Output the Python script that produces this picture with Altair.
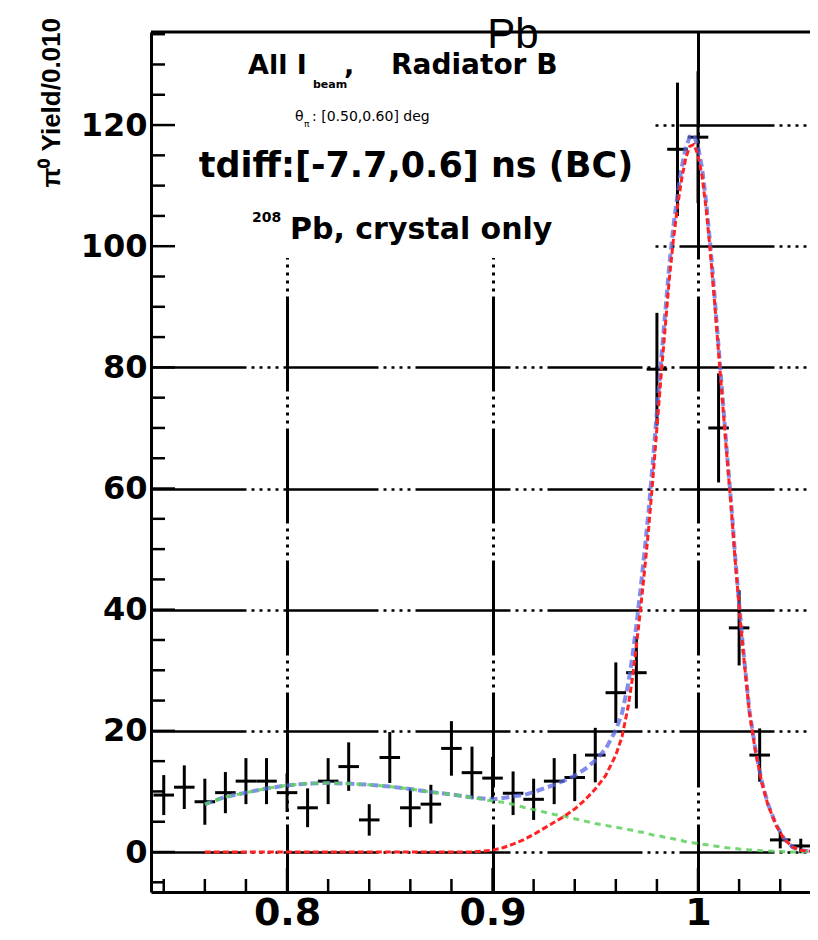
import altair as alt
import pandas as pd

# ---------------- data ----------------
pt_x = [0.74, 0.75, 0.76, 0.77, 0.78, 0.79, 0.80, 0.81, 0.82, 0.83, 0.84,
        0.85, 0.86, 0.87, 0.88, 0.89, 0.90, 0.91, 0.92, 0.93, 0.94, 0.95,
        0.96, 0.97, 0.98, 0.99, 1.00, 1.01, 1.02, 1.03, 1.04, 1.05]
pt_y = [9.4, 10.7, 8.3, 9.8, 11.7, 11.7, 9.8, 7.3, 11.7, 14.1, 5.3,
        15.6, 7.3, 7.9, 17.1, 13.1, 12.2, 9.7, 8.7, 11.7, 12.3, 16.0,
        26.3, 29.6, 79.7, 116.0, 118.0, 70.0, 37.0, 16.0, 2.0, 1.0]
pt_err = [3.3, 3.6, 3.8, 3.4, 3.8, 3.8, 3.2, 3.2, 3.8, 4.0, 2.6,
          4.2, 3.2, 3.2, 4.5, 4.3, 3.5, 3.6, 3.4, 3.8, 3.9, 4.5,
          5.0, 5.9, 9.3, 11.0, 10.9, 9.0, 6.2, 4.4, 1.4, 1.2]
bin_half = 0.005

fx = [0.76, 0.77, 0.78, 0.79, 0.80, 0.81, 0.82, 0.83, 0.84, 0.85, 0.86, 0.87,
      0.88, 0.89, 0.90, 0.905, 0.91, 0.915, 0.92, 0.925, 0.93, 0.935, 0.94,
      0.945, 0.95, 0.955, 0.96, 0.963, 0.966, 0.968, 0.970, 0.972, 0.974,
      0.976, 0.978, 0.980, 0.982, 0.984, 0.986, 0.988, 0.990, 0.992, 0.994,
      0.996, 0.998, 1.000, 1.002, 1.004, 1.006, 1.008, 1.010, 1.012, 1.014,
      1.016, 1.018, 1.020, 1.022, 1.025, 1.028, 1.031, 1.034, 1.038, 1.042,
      1.046, 1.050, 1.055, 1.060]
red = [0, 0, 0, 0, 0, 0, 0, 0, 0, 0, 0, 0,
       0, 0, 0.3, 0.7, 1.3, 2.0, 2.9, 3.9, 4.9, 5.9, 7.1,
       8.6, 10.4, 12.6, 16.0, 19.0, 24.0, 28.5, 34.0, 40.0, 46.5,
       53.5, 61.5, 70.0, 78.5, 86.5, 94.5, 101.0, 106.5, 111.0, 114.5,
       116.5, 116.8, 115.0, 111.5, 106.0, 99.0, 91.0, 82.5, 74.0, 65.5,
       57.5, 48.5, 40.5, 33.0, 23.0, 16.5, 11.5, 7.8, 4.4, 2.1,
       0.8, 0.3, 0.1, 0.0]
green = [7.9, 9.1, 9.8, 10.5, 11.0, 11.3, 11.4, 11.3, 11.1, 10.8, 10.4, 9.9,
         9.5, 9.0, 8.4, 8.2, 7.9, 7.4, 7.0, 6.6, 6.2, 5.9, 5.5,
         5.1, 4.7, 4.4, 4.1, 3.9, 3.7, 3.6, 3.4, 3.3, 3.2,
         3.0, 2.8, 2.7, 2.6, 2.4, 2.3, 2.2, 2.0, 1.9, 1.7,
         1.6, 1.5, 1.4, 1.3, 1.2, 1.1, 1.0, 0.9, 0.8, 0.7,
         0.65, 0.6, 0.5, 0.45, 0.35, 0.3, 0.2, 0.15, 0.1, 0.05,
         0.0, 0.0, 0.0, 0.0]
blue = [7.9, 9.1, 9.8, 10.5, 11.0, 11.3, 11.4, 11.3, 11.1, 10.8, 10.4, 9.9,
        9.5, 9.0, 8.7, 8.9, 9.2, 9.4, 9.9, 10.5, 11.1, 11.8, 12.6,
        13.7, 15.1, 17.0, 20.1, 22.9, 27.7, 32.1, 37.4, 43.3, 49.7,
        56.5, 64.3, 72.7, 81.1, 88.9, 96.8, 103.2, 108.5, 112.9, 116.2,
        118.1, 118.3, 116.4, 112.8, 107.2, 100.1, 92.0, 83.4, 74.8, 66.2,
        58.15, 49.1, 41.0, 33.45, 23.35, 16.8, 11.7, 7.95, 4.5, 2.15,
        0.8, 0.3, 0.1, 0.0]

x_major = [0.8, 0.9, 1.0]
x_minor = [0.74, 0.76, 0.78, 0.82, 0.84, 0.86, 0.88, 0.92, 0.94, 0.96, 0.98,
           1.02, 1.04]
y_major = [0, 20, 40, 60, 80, 100, 120]
y_minor = [-5, 5, 10, 15, 25, 30, 35, 45, 50, 55, 65, 70, 75, 85, 90, 95,
           105, 110, 115, 125, 130, 135]

title_text = "Pb"
ytitle_text = "π⁰ Yield/0.010"
line1 = ["All I", "beam", ",", "Radiator B"]
line2 = ["θ", "π", ": [0.50,0.60] deg"]
line3 = "tdiff:[-7.7,0.6] ns (BC)"
line4 = ["208", "Pb, crystal only"]

# ---------------- chart ----------------
W, H = 659, 860
FONT = "DejaVu Sans"
xscale = alt.Scale(domain=[0.7338, 1.05449], nice=False, zero=False)
yscale = alt.Scale(domain=[-6.6, 135.36], nice=False, zero=False)
grid_dash = [95, 5, 3, 5, 3, 5, 3, 5, 3, 5]

xaxis = alt.Axis(values=x_major, format="~g", title=None, grid=True,
                 gridColor="black", gridWidth=3, gridDash=grid_dash,
                 ticks=False, tickSize=0, domainColor="black", domainWidth=3,
                 labelFont=FONT, labelFontWeight="bold", labelFontSize=38,
                 labelColor="black", labelPadding=32, labelBaseline="alphabetic",
                 labelFlush=False)
yaxis = alt.Axis(values=y_major, title=None, grid=True,
                 gridColor="black", gridWidth=2.5, gridDash=grid_dash,
                 ticks=False, tickSize=0, domainColor="black", domainWidth=3,
                 labelFont=FONT, labelFontWeight="bold", labelFontSize=32,
                 labelColor="black", labelPadding=4)


def X(f):
    return alt.X(f, type="quantitative", scale=xscale, axis=xaxis)


def Y(f):
    return alt.Y(f, type="quantitative", scale=yscale, axis=yaxis)


one = pd.DataFrame({"a": [0]})

pts = pd.DataFrame({"x": pt_x, "y": pt_y, "err": pt_err})
pts["lo"] = pts["y"] - pts["err"]
pts["hi"] = pts["y"] + pts["err"]
pts["xl"] = pts["x"] - bin_half
pts["xr"] = pts["x"] + bin_half

cur = pd.DataFrame({"x": fx, "red": red, "green": green, "blue": blue})

box = alt.Chart(one).mark_rect(color="white").encode(
    x=alt.value(2), x2=alt.value(500), y=alt.value(0), y2=alt.value(226))

vbar = alt.Chart(pts).mark_rule(color="black", strokeWidth=3).encode(
    x=X("x"), y=Y("lo"), y2="hi")
hbar = alt.Chart(pts).mark_rule(color="black", strokeWidth=3).encode(
    x=X("xl"), x2="xr", y=Y("y"))

blue_line = alt.Chart(cur).mark_line(
    color="#5a68e6", strokeWidth=4, strokeDash=[8, 4], opacity=0.75, clip=True
).encode(x=X("x"), y=Y("blue"))
green_line = alt.Chart(cur).mark_line(
    color="#5cd05c", strokeWidth=3, strokeDash=[6, 5], opacity=0.85, clip=True
).encode(x=X("x"), y=Y("green"))
red_line = alt.Chart(cur).mark_line(
    color="#ff2222", strokeWidth=3, strokeDash=[6, 3], clip=True
).encode(x=X("x"), y=Y("red"))

ytick_min = alt.Chart(pd.DataFrame({"v": y_minor})).mark_rule(
    color="black", strokeWidth=2.5).encode(y=Y("v"), x=alt.value(0), x2=alt.value(14))
ytick_maj = alt.Chart(pd.DataFrame({"v": y_major})).mark_rule(
    color="black", strokeWidth=2.5).encode(y=Y("v"), x=alt.value(0), x2=alt.value(24))
xtick_min = alt.Chart(pd.DataFrame({"v": x_minor})).mark_rule(
    color="black", strokeWidth=2.5).encode(x=X("v"), y=alt.value(H), y2=alt.value(H - 13))
xtick_maj = alt.Chart(pd.DataFrame({"v": x_major})).mark_rule(
    color="black", strokeWidth=2.5).encode(x=X("v"), y=alt.value(H), y2=alt.value(H - 24))

frame_top = alt.Chart(one).mark_rule(color="black", strokeWidth=3).encode(
    x=alt.value(0), x2=alt.value(W), y=alt.value(0))


def label(text, x, y, size, weight="bold", align="left", font=FONT, angle=0):
    return alt.Chart(pd.DataFrame({"t": [text]})).mark_text(
        align=align, baseline="alphabetic", fontSize=size, fontWeight=weight,
        font=font, color="black", angle=angle
    ).encode(x=alt.value(x), y=alt.value(y), text="t:N")


texts = [
    label(title_text, 362, 16, 42, weight="normal", align="center",
          font="Liberation Sans"),
    label(ytitle_text, -91, -14, 26, align="right", font="Liberation Sans",
          angle=270),
    label(line1[0], 97, 42, 27),
    label(line1[1], 162, 56, 11),
    label(line1[2], 193, 42, 27),
    label(line1[3], 240, 42, 28),
    label(line2[0], 144, 89, 14, weight="normal"),
    label(line2[1], 153, 95, 9, weight="normal"),
    label(line2[2], 161, 89, 14, weight="normal"),
    label(line3, 265, 145, 35, align="center"),
    label(line4[0], 101, 190, 14),
    label(line4[1], 139, 207, 30),
]

chart = alt.layer(
    box, vbar, hbar, blue_line, green_line, red_line,
    ytick_min, ytick_maj, xtick_min, xtick_maj, frame_top, *texts
).properties(
    width=W, height=H,
    padding={"left": 143, "top": 24, "right": 0, "bottom": 42},
    autosize=alt.AutoSizeParams(type="none"),
    background="white",
).configure_view(stroke=None)

chart.save("out.html", embed_options={"renderer": "svg", "actions": False})
